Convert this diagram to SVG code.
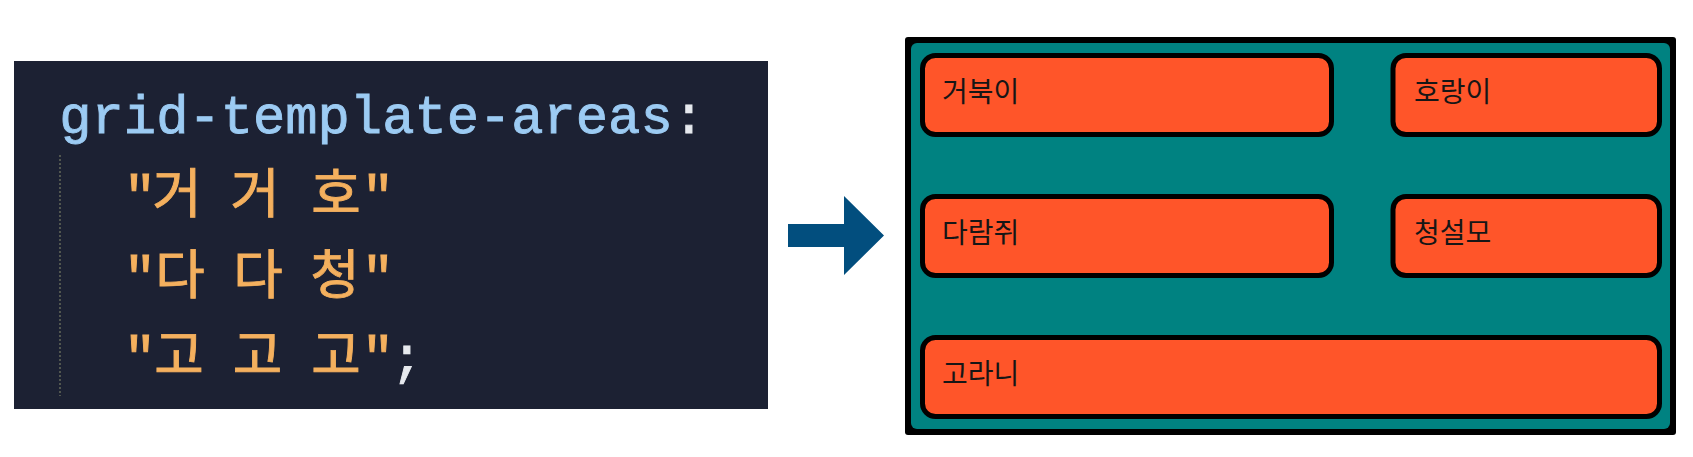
<svg xmlns="http://www.w3.org/2000/svg" width="1693" height="457" viewBox="0 0 1693 457">
<style>
.code{font-family:"Liberation Mono","Noto Sans CJK KR",monospace;font-size:53.8px;stroke-width:0.9px}
.prop{fill:#9ccbf3;stroke:#9ccbf3}
.str{fill:#f4b05e;stroke:#f4b05e}
.punct{fill:#e6e9ee;stroke:#e6e9ee}
.box{fill:#ff5529;stroke:#000;stroke-width:5}
.lbl{font-family:"Noto Sans CJK KR","Noto Sans",sans-serif;font-size:28px;fill:#161616}
</style>
<rect width="1693" height="457" fill="#ffffff"/>
<g id="code-panel">
<rect x="14" y="61" width="754" height="348" fill="#1c2133"/>
<line x1="60" y1="155" x2="60" y2="396" stroke="#51564f" stroke-width="2" stroke-dasharray="2 2"/>
<text class="code prop" x="59.3" y="133">grid-template-areas<tspan class="punct">:</tspan></text>
<text class="code str" text-anchor="middle" x="140 177 255 336 378" y="213">"거거호"</text>
<text class="code str" text-anchor="middle" x="140 180 258 335 378" y="294">"다다청"</text>
<text class="code str" text-anchor="middle" x="140 179 257.5 336 378" y="374">"고고고"<tspan class="punct" x="407">;</tspan></text>
</g>
<g id="connectors">
<polygon points="788,224 844,224 844,196 884,235.5 844,275 844,247 788,247" fill="#024e7e"/>
</g>
<g id="grid-container">
<rect x="905" y="37" width="771" height="398" rx="3" fill="#000"/>
<rect x="911" y="43" width="759" height="386" rx="6" fill="#008281"/>
</g>
<g id="node-turtle">
<rect class="box" x="922.5" y="55.5" width="409" height="79" rx="13"/>
<text class="lbl" x="942" y="102">거북이</text>
</g>
<g id="node-tiger">
<rect class="box" x="1393" y="55.5" width="266.5" height="79" rx="13"/>
<text class="lbl" x="1414" y="102">호랑이</text>
</g>
<g id="node-squirrel">
<rect class="box" x="922.5" y="196.5" width="409" height="79" rx="13"/>
<text class="lbl" x="942" y="243">다람쥐</text>
</g>
<g id="node-snowleopard">
<rect class="box" x="1393" y="196.5" width="266.5" height="79" rx="13"/>
<text class="lbl" x="1414" y="243">청설모</text>
</g>
<g id="node-gorilla">
<rect class="box" x="922.5" y="337.5" width="737" height="79" rx="13"/>
<text class="lbl" x="942" y="384">고라니</text>
</g>
</svg>
